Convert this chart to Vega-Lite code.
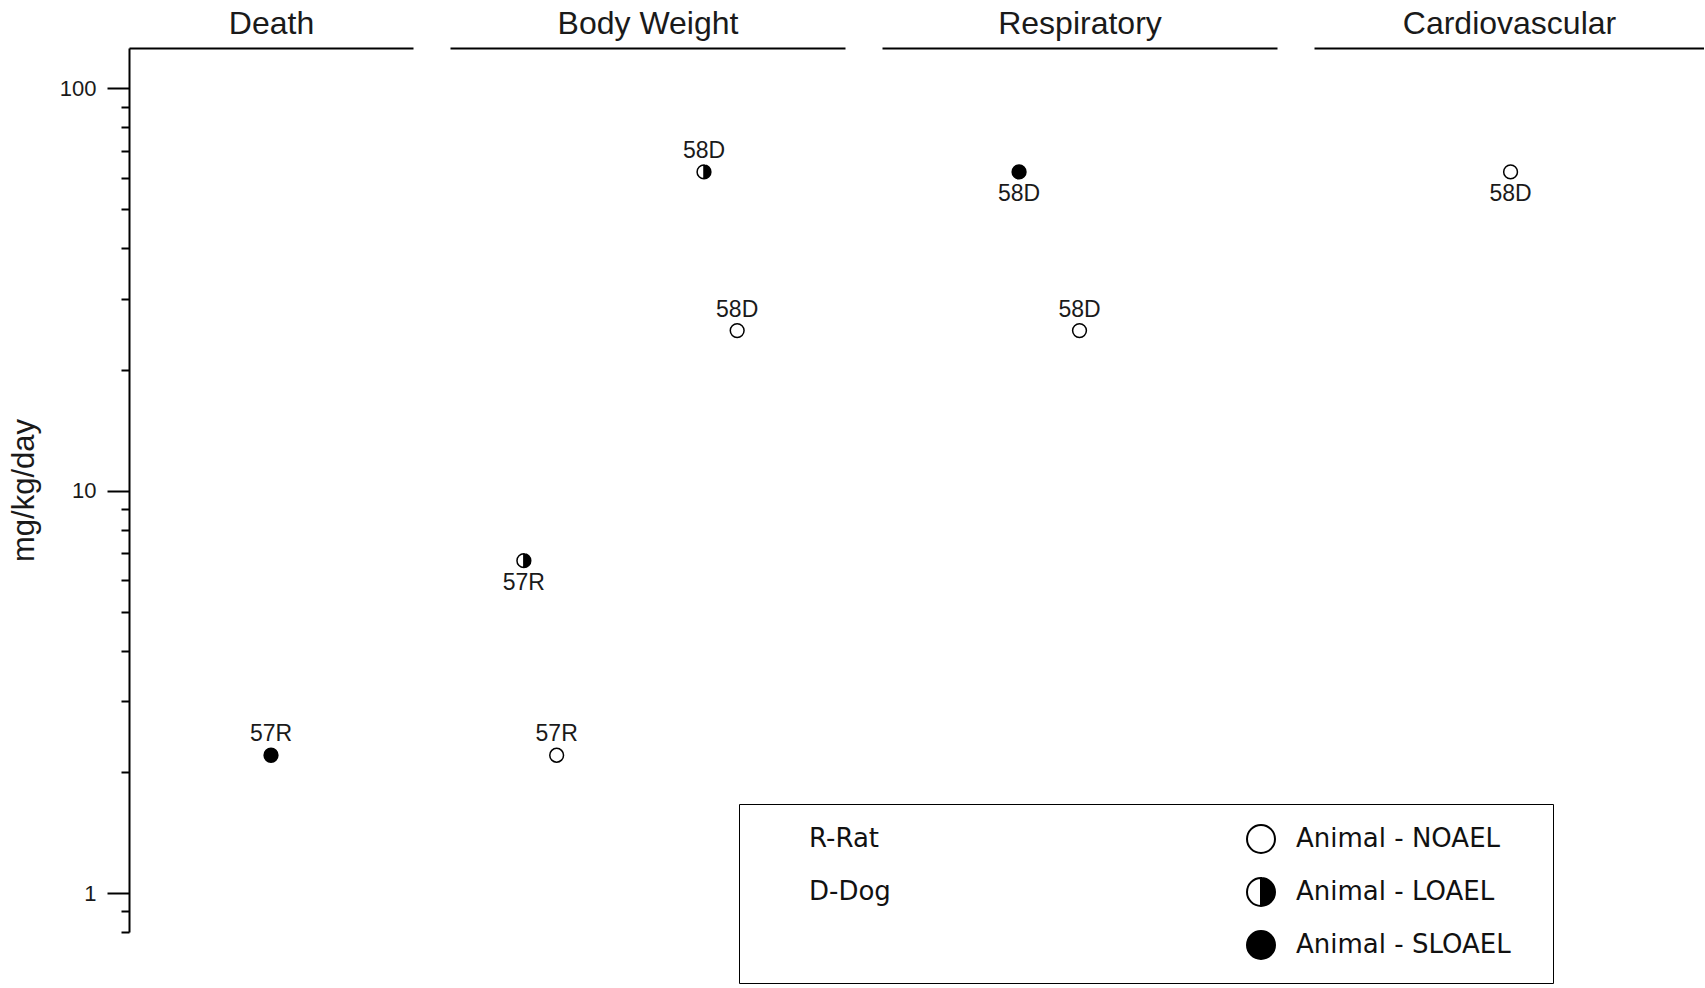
{
  "$schema": "https://vega.github.io/schema/vega-lite/v6.json",
  "padding": {"left": 8, "top": 7, "right": 0, "bottom": 0},
  "background": "white",
  "data": {"values": [
    {"endpoint": "Death", "study": "57R", "level": "Animal - SLOAEL", "dose": 2.2, "slot": 50, "label_side": "above"},
    {"endpoint": "Body Weight", "study": "57R", "level": "Animal - LOAEL", "dose": 6.7, "slot": 18.7, "label_side": "below"},
    {"endpoint": "Body Weight", "study": "57R", "level": "Animal - NOAEL", "dose": 2.2, "slot": 27, "label_side": "above"},
    {"endpoint": "Body Weight", "study": "58D", "level": "Animal - LOAEL", "dose": 62, "slot": 64.3, "label_side": "above"},
    {"endpoint": "Body Weight", "study": "58D", "level": "Animal - NOAEL", "dose": 25, "slot": 72.7, "label_side": "above"},
    {"endpoint": "Respiratory", "study": "58D", "level": "Animal - SLOAEL", "dose": 62, "slot": 34.7, "label_side": "below"},
    {"endpoint": "Respiratory", "study": "58D", "level": "Animal - NOAEL", "dose": 25, "slot": 50, "label_side": "above"},
    {"endpoint": "Cardiovascular", "study": "58D", "level": "Animal - NOAEL", "dose": 62, "slot": 50.4, "label_side": "below"}
  ]},
  "spacing": 37,
  "bounds": "flush",
  "config": {
    "view": {"stroke": null},
    "font": "Liberation Sans",
    "axis": {"domainColor": "black", "domainWidth": 2, "tickColor": "black", "tickWidth": 2, "grid": false, "labelColor": "#1a1a1a", "titleColor": "#1a1a1a", "titleFontWeight": "normal"}
  },
  "hconcat": [
    {
      "width": 284, "height": 884,
      "transform": [{"filter": "datum.endpoint === 'Death'"}],
      "encoding": {
        "x": {"field": "slot", "type": "quantitative", "scale": {"domain": [0, 100]}, "axis": {"orient": "top", "title": "Death", "labels": false, "ticks": false, "titleFontSize": 32, "titlePadding": 8, "titleFont": "Liberation Sans"}},
        "y": {"field": "dose", "type": "quantitative", "scale": {"type": "log", "domain": [0.8, 126], "nice": false},
          "axis": {
            "values": [0.8, 0.9, 1, 2, 3, 4, 5, 6, 7, 8, 9, 10, 20, 30, 40, 50, 60, 70, 80, 90, 100],
            "labelExpr": "datum.value == 1 ? '1' : datum.value == 10 ? '10' : datum.value == 100 ? '100' : ''",
            "tickSize": {"condition": {"test": "datum.value == 1 || datum.value == 10 || datum.value == 100", "value": 22}, "value": 8},
            "labelOverlap": false,
            "labelFontSize": 22, "labelPadding": 11, "labelFont": "Liberation Sans",
            "title": "mg/kg/day", "titleFontSize": 31, "titlePadding": 19, "titleFont": "Liberation Sans"
          }}
      },
      "layer": [
        {
          "mark": {"type": "point", "filled": true, "size": 190, "stroke": "black", "strokeWidth": 1.5, "opacity": 1},
          "encoding": {
            "shape": {"field": "level", "type": "nominal",
              "scale": {"domain": ["R-Rat", "D-Dog", " ", "Animal - NOAEL", "Animal - LOAEL", "Animal - SLOAEL"],
                "range": ["M0,-1A1,1 0 1,1 0,1A1,1 0 1,1 0,-1Z", "M0,-1A1,1 0 1,1 0,1A1,1 0 1,1 0,-1Z", "M0,-1A1,1 0 1,1 0,1A1,1 0 1,1 0,-1Z", "M0,-1A1,1 0 1,1 0,1A1,1 0 1,1 0,-1Z", "M0,-1A1,1 0 1,1 0,1A1,1 0 1,1 0,-1Z M0,-1A1,1 0 0,0 0,1Z", "M0,-1A1,1 0 1,1 0,1A1,1 0 1,1 0,-1Z"]},
              "legend": {
                "orient": "none", "legendX": 610, "legendY": 756, "columns": 2, "columnPadding": 352, "rowPadding": 17,
                "title": " ", "titleOrient": "right", "titlePadding": 22, "titleFontSize": 2, "titleOpacity": 0,
                "padding": 20, "strokeColor": "black",
                "labelFont": "DejaVu Sans", "labelFontSize": 26, "labelColor": "#111111", "labelOffset": 20, "labelLimit": 400,
                "symbolSize": 784, "symbolStrokeColor": "black", "symbolStrokeWidth": 2, "symbolOpacity": 1,
                "encode": {
                  "symbols": {"update": {
                    "opacity": {"signal": "datum.value === 'R-Rat' || datum.value === 'D-Dog' || datum.value === ' ' ? 0 : 1"},
                    "strokeWidth": {"value": 2}
                  }},
                  "legend": {"update": {"strokeWidth": {"value": 2}}}
                }
              }},
            "fill": {"field": "level", "type": "nominal",
              "scale": {"domain": ["R-Rat", "D-Dog", " ", "Animal - NOAEL", "Animal - LOAEL", "Animal - SLOAEL"],
                "range": ["transparent", "transparent", "transparent", "white", "black", "black"]}},
            "stroke": {"field": "level", "type": "nominal",
              "scale": {"domain": ["R-Rat", "D-Dog", " ", "Animal - NOAEL", "Animal - LOAEL", "Animal - SLOAEL"],
                "range": ["transparent", "transparent", "transparent", "black", "black", "black"]}}
          }
        },
        {
          "transform": [{"filter": "datum.label_side === 'above'"}],
          "mark": {"type": "text", "font": "Liberation Sans", "fontSize": 23, "dy": -14, "baseline": "alphabetic", "color": "#1a1a1a"},
          "encoding": {"text": {"field": "study", "type": "nominal"}}
        },
        {
          "transform": [{"filter": "datum.label_side === 'below'"}],
          "mark": {"type": "text", "font": "Liberation Sans", "fontSize": 23, "dy": 29, "baseline": "alphabetic", "color": "#1a1a1a"},
          "encoding": {"text": {"field": "study", "type": "nominal"}}
        }
      ]
    },
    {
      "width": 395, "height": 884,
      "transform": [{"filter": "datum.endpoint === 'Body Weight'"}],
      "encoding": {
        "x": {"field": "slot", "type": "quantitative", "scale": {"domain": [0, 100]}, "axis": {"orient": "top", "title": "Body Weight", "labels": false, "ticks": false, "titleFontSize": 32, "titlePadding": 8, "titleFont": "Liberation Sans"}},
        "y": {"field": "dose", "type": "quantitative", "scale": {"type": "log", "domain": [0.8, 126], "nice": false}, "axis": null}
      },
      "layer": [
        {
          "mark": {"type": "point", "filled": true, "size": 190, "stroke": "black", "strokeWidth": 1.5, "opacity": 1},
          "encoding": {
            "shape": {"field": "level", "type": "nominal", "legend": null,
              "scale": {"domain": ["R-Rat", "D-Dog", " ", "Animal - NOAEL", "Animal - LOAEL", "Animal - SLOAEL"],
                "range": ["M0,-1A1,1 0 1,1 0,1A1,1 0 1,1 0,-1Z", "M0,-1A1,1 0 1,1 0,1A1,1 0 1,1 0,-1Z", "M0,-1A1,1 0 1,1 0,1A1,1 0 1,1 0,-1Z", "M0,-1A1,1 0 1,1 0,1A1,1 0 1,1 0,-1Z", "M0,-1A1,1 0 1,1 0,1A1,1 0 1,1 0,-1Z M0,-1A1,1 0 0,0 0,1Z", "M0,-1A1,1 0 1,1 0,1A1,1 0 1,1 0,-1Z"]}},
            "fill": {"field": "level", "type": "nominal", "legend": null,
              "scale": {"domain": ["R-Rat", "D-Dog", " ", "Animal - NOAEL", "Animal - LOAEL", "Animal - SLOAEL"],
                "range": ["transparent", "transparent", "transparent", "white", "black", "black"]}}
          }
        },
        {
          "transform": [{"filter": "datum.label_side === 'above'"}],
          "mark": {"type": "text", "font": "Liberation Sans", "fontSize": 23, "dy": -14, "baseline": "alphabetic", "color": "#1a1a1a"},
          "encoding": {"text": {"field": "study", "type": "nominal"}}
        },
        {
          "transform": [{"filter": "datum.label_side === 'below'"}],
          "mark": {"type": "text", "font": "Liberation Sans", "fontSize": 23, "dy": 29, "baseline": "alphabetic", "color": "#1a1a1a"},
          "encoding": {"text": {"field": "study", "type": "nominal"}}
        }
      ]
    },
    {
      "width": 395, "height": 884,
      "transform": [{"filter": "datum.endpoint === 'Respiratory'"}],
      "encoding": {
        "x": {"field": "slot", "type": "quantitative", "scale": {"domain": [0, 100]}, "axis": {"orient": "top", "title": "Respiratory", "labels": false, "ticks": false, "titleFontSize": 32, "titlePadding": 8, "titleFont": "Liberation Sans"}},
        "y": {"field": "dose", "type": "quantitative", "scale": {"type": "log", "domain": [0.8, 126], "nice": false}, "axis": null}
      },
      "layer": [
        {
          "mark": {"type": "point", "filled": true, "size": 190, "stroke": "black", "strokeWidth": 1.5, "opacity": 1},
          "encoding": {
            "shape": {"field": "level", "type": "nominal", "legend": null,
              "scale": {"domain": ["R-Rat", "D-Dog", " ", "Animal - NOAEL", "Animal - LOAEL", "Animal - SLOAEL"],
                "range": ["M0,-1A1,1 0 1,1 0,1A1,1 0 1,1 0,-1Z", "M0,-1A1,1 0 1,1 0,1A1,1 0 1,1 0,-1Z", "M0,-1A1,1 0 1,1 0,1A1,1 0 1,1 0,-1Z", "M0,-1A1,1 0 1,1 0,1A1,1 0 1,1 0,-1Z", "M0,-1A1,1 0 1,1 0,1A1,1 0 1,1 0,-1Z M0,-1A1,1 0 0,0 0,1Z", "M0,-1A1,1 0 1,1 0,1A1,1 0 1,1 0,-1Z"]}},
            "fill": {"field": "level", "type": "nominal", "legend": null,
              "scale": {"domain": ["R-Rat", "D-Dog", " ", "Animal - NOAEL", "Animal - LOAEL", "Animal - SLOAEL"],
                "range": ["transparent", "transparent", "transparent", "white", "black", "black"]}}
          }
        },
        {
          "transform": [{"filter": "datum.label_side === 'above'"}],
          "mark": {"type": "text", "font": "Liberation Sans", "fontSize": 23, "dy": -14, "baseline": "alphabetic", "color": "#1a1a1a"},
          "encoding": {"text": {"field": "study", "type": "nominal"}}
        },
        {
          "transform": [{"filter": "datum.label_side === 'below'"}],
          "mark": {"type": "text", "font": "Liberation Sans", "fontSize": 23, "dy": 29, "baseline": "alphabetic", "color": "#1a1a1a"},
          "encoding": {"text": {"field": "study", "type": "nominal"}}
        }
      ]
    },
    {
      "width": 390, "height": 884,
      "transform": [{"filter": "datum.endpoint === 'Cardiovascular'"}],
      "encoding": {
        "x": {"field": "slot", "type": "quantitative", "scale": {"domain": [0, 100]}, "axis": {"orient": "top", "title": "Cardiovascular", "labels": false, "ticks": false, "titleFontSize": 32, "titlePadding": 8, "titleFont": "Liberation Sans"}},
        "y": {"field": "dose", "type": "quantitative", "scale": {"type": "log", "domain": [0.8, 126], "nice": false}, "axis": null}
      },
      "layer": [
        {
          "mark": {"type": "point", "filled": true, "size": 190, "stroke": "black", "strokeWidth": 1.5, "opacity": 1},
          "encoding": {
            "shape": {"field": "level", "type": "nominal", "legend": null,
              "scale": {"domain": ["R-Rat", "D-Dog", " ", "Animal - NOAEL", "Animal - LOAEL", "Animal - SLOAEL"],
                "range": ["M0,-1A1,1 0 1,1 0,1A1,1 0 1,1 0,-1Z", "M0,-1A1,1 0 1,1 0,1A1,1 0 1,1 0,-1Z", "M0,-1A1,1 0 1,1 0,1A1,1 0 1,1 0,-1Z", "M0,-1A1,1 0 1,1 0,1A1,1 0 1,1 0,-1Z", "M0,-1A1,1 0 1,1 0,1A1,1 0 1,1 0,-1Z M0,-1A1,1 0 0,0 0,1Z", "M0,-1A1,1 0 1,1 0,1A1,1 0 1,1 0,-1Z"]}},
            "fill": {"field": "level", "type": "nominal", "legend": null,
              "scale": {"domain": ["R-Rat", "D-Dog", " ", "Animal - NOAEL", "Animal - LOAEL", "Animal - SLOAEL"],
                "range": ["transparent", "transparent", "transparent", "white", "black", "black"]}}
          }
        },
        {
          "transform": [{"filter": "datum.label_side === 'above'"}],
          "mark": {"type": "text", "font": "Liberation Sans", "fontSize": 23, "dy": -14, "baseline": "alphabetic", "color": "#1a1a1a"},
          "encoding": {"text": {"field": "study", "type": "nominal"}}
        },
        {
          "transform": [{"filter": "datum.label_side === 'below'"}],
          "mark": {"type": "text", "font": "Liberation Sans", "fontSize": 23, "dy": 29, "baseline": "alphabetic", "color": "#1a1a1a"},
          "encoding": {"text": {"field": "study", "type": "nominal"}}
        }
      ]
    }
  ]
}
